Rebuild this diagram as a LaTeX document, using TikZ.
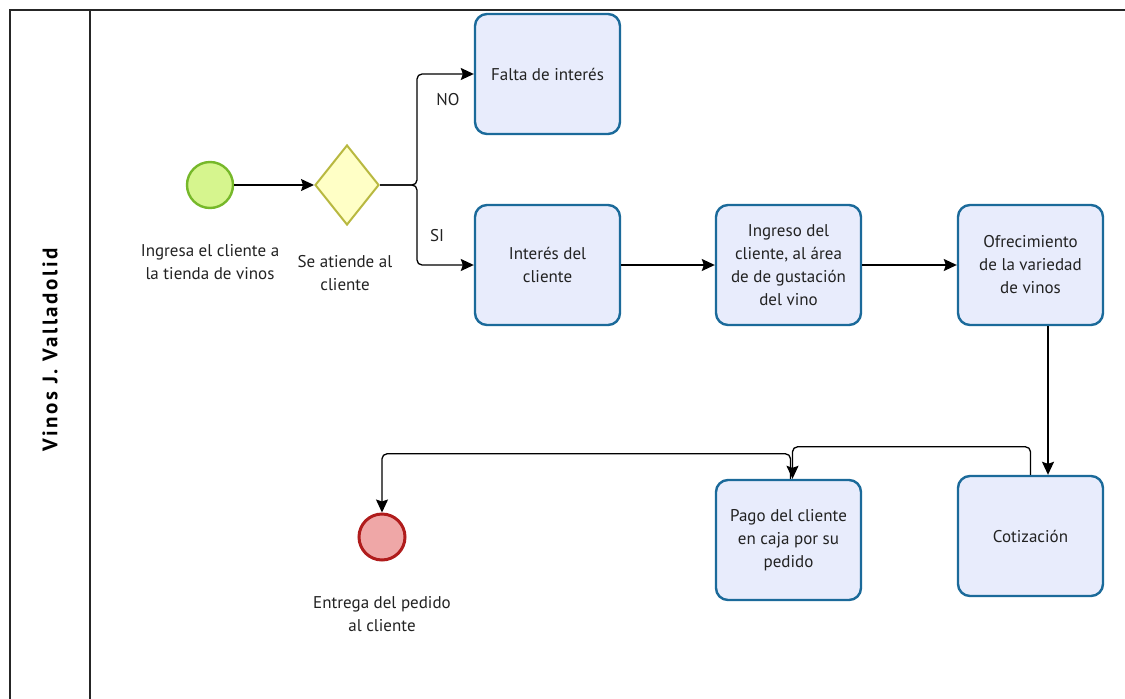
\documentclass[tikz,border=0pt]{standalone}
\usepackage{fontspec}
\setmainfont{PT Sans}
\newfontfamily\poolfont[LetterSpace=12]{PT Sans}
\usetikzlibrary{arrows.meta,shapes.geometric}
\definecolor{taskfill}{HTML}{E8ECFC}
\definecolor{taskline}{HTML}{1B6A9A}
\definecolor{startfill}{HTML}{D6F58E}
\definecolor{startline}{HTML}{76B82A}
\definecolor{gwfill}{HTML}{FFFFC6}
\definecolor{gwline}{HTML}{B8B840}
\definecolor{endfill}{HTML}{EFA7A7}
\definecolor{endline}{HTML}{B01C1C}
\definecolor{textc}{HTML}{222222}
\begin{document}
\begin{tikzpicture}[x=1pt,y=-1pt,
  font=\fontsize{17}{23}\selectfont,
  task/.style={draw=taskline, fill=taskfill, line width=2.4pt, rounded corners=12pt,
    minimum width=145pt, minimum height=120pt, align=center, text=textc, inner sep=2pt},
  startev/.style={circle, draw=startline, fill=startfill, line width=2.4pt, minimum size=46pt, inner sep=0pt},
  endev/.style={circle, draw=endline, fill=endfill, line width=3pt, minimum size=46pt, inner sep=0pt},
  gate/.style={diamond, draw=gwline, fill=gwfill, line width=2pt, minimum width=64pt, minimum height=80pt, inner sep=0pt},
  lbl/.style={align=center, text=textc, inner sep=0pt},
  flow/.style={draw=black, line width=1.3pt, rounded corners=5pt, -{Stealth[length=13pt,width=12pt,inset=2pt]}},
  pool/.style={draw=black!85, line width=1.5pt}
]
\useasboundingbox (0,0) rectangle (1125,699);
% pool
\draw[pool] (10,699) -- (10,10) -- (1125,10);
\draw[pool] (90,10) -- (90,699);
\node[rotate=90, font=\poolfont\fontsize{21}{23}\selectfont\bfseries, text=black] (poollbl) at (50,350) {Vinos J. Valladolid};

% events and gateway
\node[startev] (start) at (210,185) {};
\node[gate] (gw) at (347,185) {};
\node[endev] (endev) at (382,537) {};
\node[lbl] (startlbl) at (210,262) {Ingresa el cliente a\\la tienda de vinos};
\node[lbl] (gwlbl) at (345,273) {Se atiende al\\cliente};
\node[lbl] (endlbl) at (382,614) {Entrega del pedido\\al cliente};

% tasks
\node[task] (falta) at (547.5,74) {Falta de interés};
\node[task] (interes) at (547.5,265) {Interés del\\cliente};
\node[task] (ingreso) at (788.5,265) {Ingreso del\\cliente, al área\\de de gustación\\del vino};
\node[task] (ofrec) at (1030.5,265) {Ofrecimiento\\de la variedad\\de vinos};
\node[task] (cot) at (1030.5,536) {Cotización};
\node[task] (pago) at (788.5,540) {Pago del cliente\\en caja por su\\pedido};

% flows
\coordinate (split) at (417,185);
\draw[flow] (start.east) -- (gw.west);
\draw[flow] (gw.east) -- (split) |- (falta.west);
\draw[flow] (gw.east) -- (split) |- (interes.west);
\draw[flow] (interes.east) -- (ingreso.west);
\draw[flow] (ingreso.east) -- (ofrec.west);
\draw[flow] ([xshift=17.5pt]ofrec.south) -- ([xshift=17.5pt]cot.north);
\draw[flow] (cot.north) -- ++(0,-28) -| ([xshift=4pt]pago.north);
\draw[flow] ([xshift=2pt]pago.north) -- ++(0,-25) -| (endev.north);

\node[lbl] (nolbl) at (448,100) {NO};
\node[lbl] (silbl) at (437,236) {SI};
\end{tikzpicture}
\end{document}
